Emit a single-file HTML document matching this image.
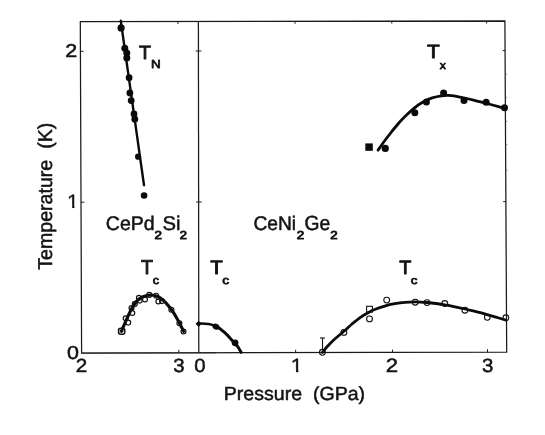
<!DOCTYPE html>
<html>
<head>
<meta charset="utf-8">
<title>Pressure-temperature phase diagram</title>
<style>
html,body{margin:0;padding:0;background:#fff;}
body{width:545px;height:435px;overflow:hidden;font-family:"Liberation Sans",sans-serif;}
svg{display:block;position:absolute;left:0;top:0;}
text{font-family:"Liberation Sans",sans-serif;fill:#111;stroke:#111;stroke-width:0.55px;stroke-linejoin:round;white-space:pre;text-rendering:geometricPrecision;}
.fr{stroke:#1a1a1a;stroke-width:1.25;fill:none;}
.tk{stroke:#222;stroke-width:1;fill:none;}
.cv{stroke:#0a0a0a;stroke-width:2.6;fill:none;stroke-linecap:round;stroke-linejoin:round;}
.fd{fill:#0a0a0a;stroke:none;}
.oc{fill:none;stroke:#111;stroke-width:1.1;}
</style>
</head>
<body>
<svg width="545" height="435" viewBox="0 0 545 435">
<rect x="0" y="0" width="545" height="435" fill="#fff"/>
<defs><clipPath id="one" clipPathUnits="userSpaceOnUse"><path d="M1.1 -15 H6.8 V0.4 H4.65 V-2.4 H1.1 Z"/></clipPath></defs>
<!-- frame (slightly skewed as in the scan) -->
<path class="fr" d="M80.3 21.6 L504.9 21 L506.7 352.2 L81.6 353 Z"/>
<path class="fr" d="M198.4 21.4 L198.8 352.8"/>
<path class="fr" style="stroke-width:0.7" d="M81.6 353 L216 352.8"/>
<!-- ticks -->
<g class="tk">
<line x1="80.4" y1="51.3" x2="83.6" y2="51.3"/>
<line x1="81" y1="202.2" x2="84.4" y2="202.2"/>
<line x1="195.6" y1="51" x2="201.4" y2="51"/>
<line x1="196" y1="202" x2="201.8" y2="202"/>
<line x1="502.6" y1="50.6" x2="505.4" y2="50.6"/>
<line x1="503.2" y1="201.6" x2="506" y2="201.6"/>
<line x1="178.8" y1="352.8" x2="178.8" y2="349.8"/>
<line x1="295.6" y1="352.6" x2="295.6" y2="349.8"/>
<line x1="392.5" y1="352.4" x2="392.5" y2="349.6"/>
<line x1="487.5" y1="352.2" x2="487.5" y2="349.2"/>
<line x1="178" y1="21.5" x2="178" y2="24"/>
<line x1="295" y1="21.3" x2="295" y2="23.8"/>
<line x1="391.8" y1="21.2" x2="391.8" y2="23.6"/>
<line x1="486.6" y1="21" x2="486.6" y2="23.5"/>
</g>
<g class="tk" style="stroke-width:0.7;stroke:#666">
<line x1="505.4" y1="74" x2="507.2" y2="74"/>
<line x1="505.5" y1="97.6" x2="507.3" y2="97.6"/>
<line x1="505.6" y1="121.5" x2="507.4" y2="121.5"/>
<line x1="505.7" y1="144.6" x2="507.5" y2="144.6"/>
<line x1="505.8" y1="170.2" x2="507.6" y2="170.2"/>
</g>

<!-- T_N line -->
<path class="cv" style="stroke-width:2.4" d="M120.8 20.8 L144 185.2"/>
<g class="fd">
<circle cx="121.1" cy="27.9" r="3.6"/>
<circle cx="124.8" cy="48.3" r="3.5"/>
<circle cx="126.8" cy="52.9" r="3.5"/>
<circle cx="126.8" cy="58.1" r="3.5"/>
<circle cx="129.1" cy="77.7" r="3.4"/>
<circle cx="129.9" cy="93" r="3.4"/>
<circle cx="131.2" cy="100.6" r="3.4"/>
<circle cx="134" cy="113.9" r="3.4"/>
<circle cx="134.8" cy="119.2" r="3.4"/>
<circle cx="138.1" cy="156.7" r="3.1"/>
<circle cx="144.1" cy="195.5" r="3.3"/>
</g>

<!-- left Tc dome -->
<path class="cv" style="stroke-width:3.1" d="M121.4 331.4 C122.2 329.4 124.8 323.4 126.5 319.6 C128.2 315.9 129.7 312.1 131.5 308.9 C133.3 305.7 135.3 302.7 137.2 300.6 C139.1 298.6 140.7 297.5 143.0 296.6 C145.3 295.7 148.6 294.9 151.3 295.0 C154.1 295.1 157.0 295.9 159.5 297.3 C162.0 298.7 163.9 300.8 166.1 303.1 C168.3 305.5 170.5 308.1 172.7 311.4 C174.9 314.7 177.6 319.6 179.4 322.9 C181.2 326.2 182.9 330.0 183.6 331.4"/>
<g class="oc" style="stroke-width:1.2">
<rect x="118.6" y="328.3" width="6.1" height="5.9" rx="2" ry="2" style="stroke-width:1.6"/>
<circle cx="125.7" cy="318.3" r="2.45"/>
<circle cx="128.2" cy="322.6" r="2.45"/>
<circle cx="131.5" cy="308.1" r="2.45"/>
<circle cx="132.3" cy="313" r="2.45"/>
<circle cx="134.8" cy="303.9" r="2.45"/>
<circle cx="138.9" cy="297.8" r="2.45"/>
<circle cx="139.7" cy="300.6" r="2.45"/>
<circle cx="145" cy="299.5" r="2.45"/>
<circle cx="149.3" cy="294.9" r="2.45"/>
<circle cx="156.2" cy="295.7" r="2.45"/>
<circle cx="158.4" cy="301.5" r="2.45"/>
<circle cx="162" cy="301.1" r="2.45"/>
<circle cx="171.4" cy="309.7" r="2.45"/>
<circle cx="179.4" cy="323.3" r="2.45"/>
<circle cx="183.5" cy="331.5" r="2.45"/>
</g>

<!-- right panel low-pressure Tc -->
<path class="cv" style="stroke-width:2.4" d="M198.6 323.6 C203 323.5 206 323.6 208.4 324 C211 324.4 213.5 325 215.9 326.2"/>
<path class="cv" style="stroke-width:3" d="M215.9 326.2 C219 327.8 222 330.2 224.5 332.4 C226.5 334.2 228.5 336.3 230.2 338.2 C232 340.2 233.6 342 235.1 343.6 C236.3 345 237.4 346.3 238.3 347.5 C239.4 349.2 240.3 350.8 241.1 352.3"/>
<g class="fd">
<path d="M198.6 320.7 L201.6 323.8 L198.6 326.9 L195.6 323.8 Z"/>
<ellipse cx="215.9" cy="326.7" rx="3.5" ry="2.9" transform="rotate(25 215.9 326.7)"/>
<circle cx="235.1" cy="342.8" r="3.4"/>
</g>

<!-- Tx curve -->
<path class="cv" style="stroke-width:2.8" d="M378.0 150.2 C379.1 148.7 382.2 144.1 384.5 141.0 C386.8 137.9 389.6 134.3 391.8 131.5 C394.1 128.7 395.9 126.5 398.0 124.0 C400.1 121.5 402.1 119.4 404.7 116.8 C407.3 114.2 410.8 110.8 413.9 108.3 C416.9 105.8 419.9 103.6 423.0 101.9 C426.1 100.2 429.1 98.9 432.2 97.9 C435.3 96.9 438.7 96.2 441.4 95.8 C444.1 95.4 445.7 95.3 448.4 95.4 C451.1 95.5 454.5 96.1 457.6 96.6 C460.7 97.1 463.7 97.8 466.8 98.5 C469.9 99.2 472.9 100.0 476.0 100.8 C479.1 101.6 482.1 102.3 485.2 103.1 C488.3 103.9 491.2 104.6 494.4 105.5 C497.6 106.4 502.8 107.8 504.5 108.3"/>
<g class="fd">
<rect x="365.3" y="143.4" width="7.5" height="7.4"/>
<circle cx="385.3" cy="148.4" r="3.6"/>
<circle cx="414.8" cy="112.7" r="3.5"/>
<circle cx="426.4" cy="102.1" r="3.5"/>
<circle cx="443.6" cy="93.1" r="3.5"/>
<circle cx="464" cy="100.4" r="3.5"/>
<circle cx="486.2" cy="102.2" r="3.5"/>
<circle cx="504.5" cy="107.7" r="3.5"/>
</g>

<!-- right Tc curve -->
<path class="cv" style="stroke-width:2.8" d="M322.4 352.4 C323.3 351.3 326.0 347.9 328.0 345.8 C330.0 343.7 331.6 341.9 334.2 339.5 C336.8 337.1 340.9 333.9 343.9 331.3 C346.9 328.7 349.2 326.3 352.0 324.0 C354.8 321.7 357.8 319.2 360.5 317.3 C363.2 315.4 365.8 313.8 368.5 312.4 C371.2 311.0 373.8 309.9 376.6 308.8 C379.4 307.7 382.5 306.7 385.5 305.8 C388.5 304.9 391.6 304.3 394.8 303.7 C398.1 303.1 401.6 302.6 405.0 302.3 C408.4 302.0 411.2 301.9 414.9 301.9 C418.6 301.9 423.5 302.2 427.0 302.5 C430.5 302.8 433.0 303.1 436.0 303.5 C439.0 303.9 441.8 304.3 445.0 304.9 C448.2 305.4 451.7 306.1 455.0 306.8 C458.3 307.5 461.5 308.2 465.0 309.0 C468.5 309.8 472.3 310.8 476.0 311.7 C479.7 312.6 483.7 313.7 487.0 314.6 C490.3 315.5 492.9 316.3 496.0 317.2 C499.1 318.1 503.9 319.5 505.5 320.0"/>
<g class="oc">
<line x1="322.5" y1="349.5" x2="322.5" y2="338"/>
<line x1="320" y1="338" x2="325" y2="338"/>
<circle cx="322.4" cy="352.3" r="2.9"/>
<circle cx="343.9" cy="332.4" r="2.9"/>
<rect x="366.6" y="306.3" width="5.8" height="5.8"/>
<circle cx="369.5" cy="318.9" r="2.9"/>
<circle cx="386.7" cy="300.1" r="2.9"/>
<circle cx="415.2" cy="302.2" r="2.9"/>
<circle cx="427" cy="302.6" r="2.9"/>
<circle cx="444.8" cy="303.5" r="2.9"/>
<circle cx="464.9" cy="310.2" r="2.9"/>
<circle cx="487.3" cy="317.3" r="2.9"/>
<circle cx="505.9" cy="317.8" r="2.9"/>
</g>

<!-- text labels -->
<g opacity="0.99">
<text id="y2" transform="translate(65.17 57.25) scale(1.1598 1)" style="font-size:18.57px;stroke-width:0.5px;">2</text>
<text id="y1" transform="translate(67.03 207.75) scale(1.1011 1)" style="font-size:19.28px;stroke-width:0.5px;" clip-path="url(#one)">1</text>
<text id="y0" transform="translate(66.89 358.86) scale(1.1463 1)" style="font-size:18.73px;stroke-width:0.5px;">0</text>
<text id="xl2" transform="translate(75.72 372.25) scale(1.0873 1)" style="font-size:19.00px;stroke-width:0.5px;">2</text>
<text id="xl3" transform="translate(173.23 371.86) scale(1.0663 1)" style="font-size:19.15px;stroke-width:0.5px;">3</text>
<text id="xr0" transform="translate(194.13 371.86) scale(1.0661 1)" style="font-size:19.15px;stroke-width:0.5px;">0</text>
<text id="xr1" transform="translate(290.79 372.25) scale(1.1308 1)" style="font-size:19.13px;stroke-width:0.5px;" clip-path="url(#one)">1</text>
<text id="xr2" transform="translate(385.84 372.25) scale(1.1425 1)" style="font-size:19.43px;stroke-width:0.5px;">2</text>
<text id="xr3" transform="translate(482.03 372.06) scale(1.0663 1)" style="font-size:19.15px;stroke-width:0.5px;">3</text>
<text id="xt" transform="translate(223.79 400.15) scale(1.0276 1)" style="font-size:19.04px;stroke-width:0.5px;">Pressure  (GPa)</text>
<text id="yt" transform="translate(52.45 269.74) rotate(-90) scale(0.9798 1)" style="font-size:20.00px;stroke-width:0.5px;">Temperature  (K)</text>
<text id="tn" transform="translate(138.96 58.55) scale(1.0270 1)" style="font-size:19.13px;stroke-width:0.9px;">T</text>
<text id="tns" transform="translate(150.90 68.42) scale(1.1556 1)" style="font-size:11.67px;stroke-width:0.75px;">N</text>
<text id="tx" transform="translate(427.03 58.35) scale(1.0917 1)" style="font-size:19.13px;stroke-width:0.9px;">T</text>
<text id="txs" transform="translate(439.79 68.53) scale(1.0898 1)" style="font-size:11.23px;stroke-width:0.75px;">x</text>
<text id="tc1" transform="translate(140.96 274.35) scale(0.9823 1)" style="font-size:20.00px;stroke-width:0.9px;">T</text>
<text id="tc1s" transform="translate(152.80 284.01) scale(1.1335 1)" style="font-size:11.18px;stroke-width:0.75px;">c</text>
<text id="tc2" transform="translate(210.24 274.35) scale(1.0572 1)" style="font-size:19.42px;stroke-width:0.9px;">T</text>
<text id="tc2s" transform="translate(222.25 284.41) scale(1.2375 1)" style="font-size:11.18px;stroke-width:0.75px;">c</text>
<text id="tc3" transform="translate(399.15 273.85) scale(1.0284 1)" style="font-size:19.28px;stroke-width:0.9px;">T</text>
<text id="tc3s" transform="translate(410.87 284.12) scale(1.2156 1)" style="font-size:11.00px;stroke-width:0.75px;">c</text>
<text id="c1" transform="translate(105.87 229.65) scale(0.9973 1)" style="font-size:19.59px;stroke-width:0.5px;">CePd</text>
<text id="c1a" transform="translate(154.55 239.28) scale(1.1609 1)" style="font-size:11.64px;stroke-width:0.85px;">2</text>
<text id="c1b" transform="translate(162.44 229.65) scale(1.0198 1)" style="font-size:19.86px;stroke-width:0.5px;">Si</text>
<text id="c1c" transform="translate(179.77 239.28) scale(1.1232 1)" style="font-size:11.64px;stroke-width:0.85px;">2</text>
<text id="c2" transform="translate(253.39 229.55) scale(0.9753 1)" style="font-size:19.73px;stroke-width:0.5px;">CeNi</text>
<text id="c2a" transform="translate(296.75 239.18) scale(1.1753 1)" style="font-size:11.50px;stroke-width:0.85px;">2</text>
<text id="c2b" transform="translate(304.49 229.64) scale(0.9373 1)" style="font-size:20.56px;stroke-width:0.5px;">Ge</text>
<text id="c2c" transform="translate(330.36 239.18) scale(1.1562 1)" style="font-size:11.50px;stroke-width:0.85px;">2</text>
</g>
</svg>

</body>
</html>
